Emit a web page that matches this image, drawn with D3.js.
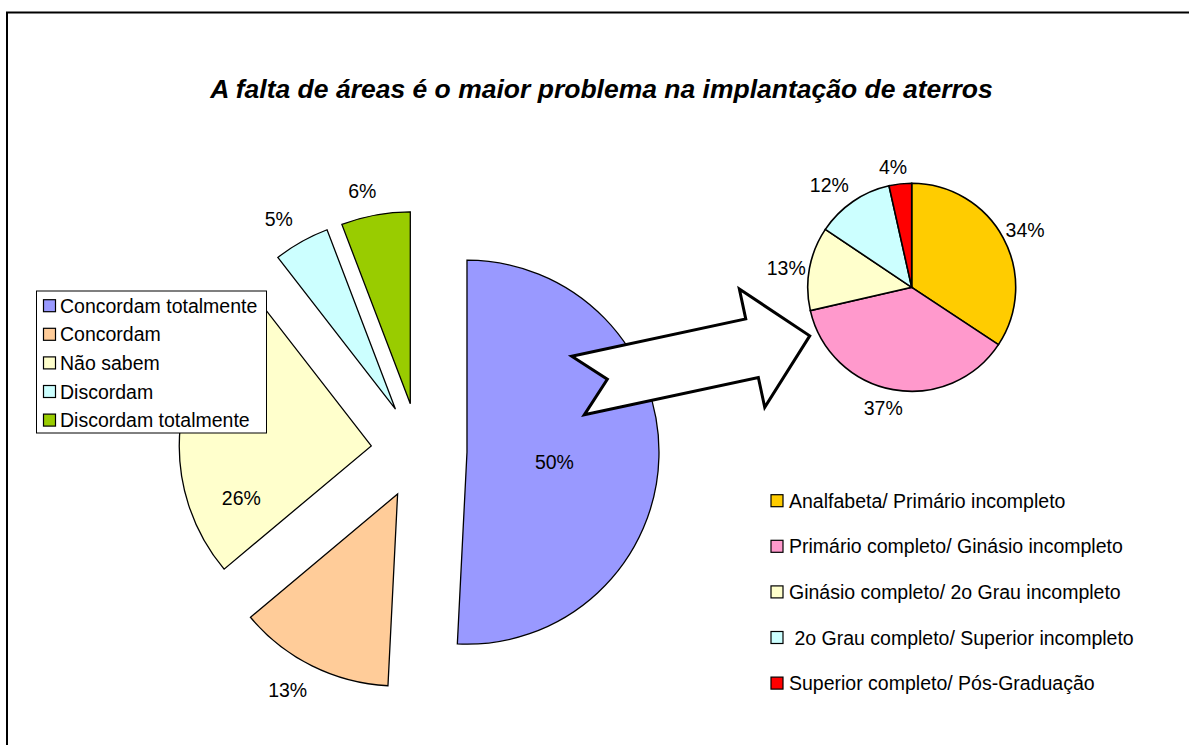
<!DOCTYPE html>
<html>
<head>
<meta charset="utf-8">
<script src="https://cdn.jsdelivr.net/npm/d3@7"></script>
<style>
  html, body { margin: 0; padding: 0; background: #fff; }
  svg { display: block; }
  text { font-family: "Liberation Sans", Arial, sans-serif; fill: #000; }
</style>
</head>
<body>
<svg id="chart" width="1189" height="745"></svg>
<script>
// ---------- DATA ----------
const title = "A falta de áreas é o maior problema na implantação de aterros";

const mainCategories = ["Concordam totalmente", "Concordam", "Não sabem", "Discordam", "Discordam totalmente"];
const mainValues = [50.8, 13.1, 25.6, 4.7, 5.8];
const mainLabels = ["50%", "13%", "26%", "5%", "6%"];
const mainColors = ["#9999FF", "#FFCC99", "#FFFFCC", "#CCFFFF", "#99CC00"];

const subCategories = ["Analfabeta/ Primário incompleto", "Primário completo/ Ginásio incompleto",
  "Ginásio completo/ 2o Grau incompleto", " 2o Grau completo/ Superior incompleto",
  "Superior completo/ Pós-Graduação"];
const subValues = [34.3, 37.1, 13.0, 12.1, 3.5];
const subLabels = ["34%", "37%", "13%", "12%", "4%"];
const subColors = ["#FFCC00", "#FF99CC", "#FFFFCC", "#CCFFFF", "#FF0000"];

// ---------- LAYOUT ----------
const svg = d3.select("#chart");
const FS = 19.5;
const rad = a => a * Math.PI / 180;

// chart frame (only top and left are inside the picture)
svg.append("rect").attr("x", 7).attr("y", 12.5).attr("width", 1300).attr("height", 900)
  .attr("fill", "none").attr("stroke", "#000").attr("stroke-width", 2);

svg.append("text").attr("x", 601.5).attr("y", 97.5).attr("text-anchor", "middle")
  .style("font-size", "26.5px").style("font-weight", "bold").style("font-style", "italic")
  .text(title);

// ---- main exploded pie ----
const M = { cx: 419, cy: 451, r: 192, explode: 48 };
const pie = d3.pie().sort(null).value(d => d).startAngle(0).endAngle(2 * Math.PI);
const mainArcs = pie(mainValues);
const arcMain = d3.arc().innerRadius(0).outerRadius(M.r);
// label placement: distance from slice apex, angle shift from bisector (deg)
const mainLabelPlace = [{ d: 88, da: 5 }, { d: 225, da: 2.8 }, { d: 140, da: -28 }, { d: 223, da: -2.2 }, { d: 218, da: -2.3 }];

const gMain = svg.append("g").attr("transform", `translate(${M.cx},${M.cy})`);
const slices = gMain.selectAll("g.slice").data(mainArcs).join("g").attr("class", "slice")
  .attr("transform", d => {
    const m = (d.startAngle + d.endAngle) / 2;
    return `translate(${M.explode * Math.sin(m)},${-M.explode * Math.cos(m)})`;
  });
slices.append("path").attr("d", arcMain).attr("fill", (d, i) => mainColors[i])
  .attr("stroke", "#000").attr("stroke-width", 1.3).attr("stroke-linejoin", "miter");
slices.append("text")
  .attr("x", (d, i) => { const m = (d.startAngle + d.endAngle) / 2 + rad(mainLabelPlace[i].da); return mainLabelPlace[i].d * Math.sin(m); })
  .attr("y", (d, i) => { const m = (d.startAngle + d.endAngle) / 2 + rad(mainLabelPlace[i].da); return -mainLabelPlace[i].d * Math.cos(m); })
  .attr("text-anchor", "middle").attr("dominant-baseline", "central")
  .style("font-size", FS + "px").text((d, i) => mainLabels[i]);

// ---- main legend ----
const L1 = { x: 36.5, y: 291, w: 230, h: 142, row0: 305.7, step: 28.6 };
const gLeg1 = svg.append("g");
gLeg1.append("rect").attr("x", L1.x).attr("y", L1.y).attr("width", L1.w).attr("height", L1.h)
  .attr("fill", "#fff").attr("stroke", "#000").attr("stroke-width", 1);
const leg1 = gLeg1.selectAll("g.item").data(mainCategories).join("g").attr("class", "item")
  .attr("transform", (d, i) => `translate(0,${L1.row0 + i * L1.step})`);
leg1.append("rect").attr("x", 43.5).attr("y", -6).attr("width", 12).attr("height", 12)
  .attr("fill", (d, i) => mainColors[i]).attr("stroke", "#000").attr("stroke-width", 1.2);
leg1.append("text").attr("x", 60).attr("y", 0).attr("dominant-baseline", "central")
  .style("font-size", FS + "px").text(d => d);

// ---- secondary pie ----
const S = { cx: 911.7, cy: 287.3, r: 104 };
const subArcs = pie(subValues);
const arcSub = d3.arc().innerRadius(0).outerRadius(S.r);
const subLabelPlace = [{ d: 127, da: 1.5 }, { d: 124, da: 3 }, { d: 127, da: -1.6 }, { d: 131, da: -4.6 }, { d: 122, da: -2.5 }];
const gSub = svg.append("g").attr("transform", `translate(${S.cx},${S.cy})`);
gSub.selectAll("path").data(subArcs).join("path").attr("d", arcSub)
  .attr("fill", (d, i) => subColors[i]).attr("stroke", "#000").attr("stroke-width", 1.6);
gSub.selectAll("text").data(subArcs).join("text")
  .attr("x", (d, i) => { const m = (d.startAngle + d.endAngle) / 2 + rad(subLabelPlace[i].da); return subLabelPlace[i].d * Math.sin(m); })
  .attr("y", (d, i) => { const m = (d.startAngle + d.endAngle) / 2 + rad(subLabelPlace[i].da); return -subLabelPlace[i].d * Math.cos(m); })
  .attr("text-anchor", "middle").attr("dominant-baseline", "central")
  .style("font-size", FS + "px").text((d, i) => subLabels[i]);

// ---- secondary legend ----
const L2 = { row0: 500.7, step: 45.6 };
const leg2 = svg.append("g").selectAll("g.item").data(subCategories).join("g").attr("class", "item")
  .attr("transform", (d, i) => `translate(0,${L2.row0 + i * L2.step})`);
leg2.append("rect").attr("x", 771).attr("y", -6).attr("width", 12).attr("height", 12)
  .attr("fill", (d, i) => subColors[i]).attr("stroke", "#000").attr("stroke-width", 1.2);
leg2.append("text").attr("x", 789).attr("y", 0).attr("dominant-baseline", "central")
  .style("white-space", "pre").style("font-size", FS + "px").text(d => d);

// ---- block arrow from main pie to secondary pie ----
const A = { x: 578, y: 385.5, angle: -12.1, len: 237, headStart: 178, shaft: 30, head: 60.5, notch: 30 };
const arrowPts = [[0, -A.shaft], [A.headStart, -A.shaft], [A.headStart, -A.head], [A.len, 0],
  [A.headStart, A.head], [A.headStart, A.shaft], [0, A.shaft], [A.notch, 0]];
svg.append("path").attr("d", d3.line()(arrowPts) + "Z")
  .attr("transform", `translate(${A.x},${A.y}) rotate(${A.angle})`)
  .attr("fill", "#fff").attr("stroke", "#000").attr("stroke-width", 3).attr("stroke-linejoin", "miter");
</script>
</body>
</html>
